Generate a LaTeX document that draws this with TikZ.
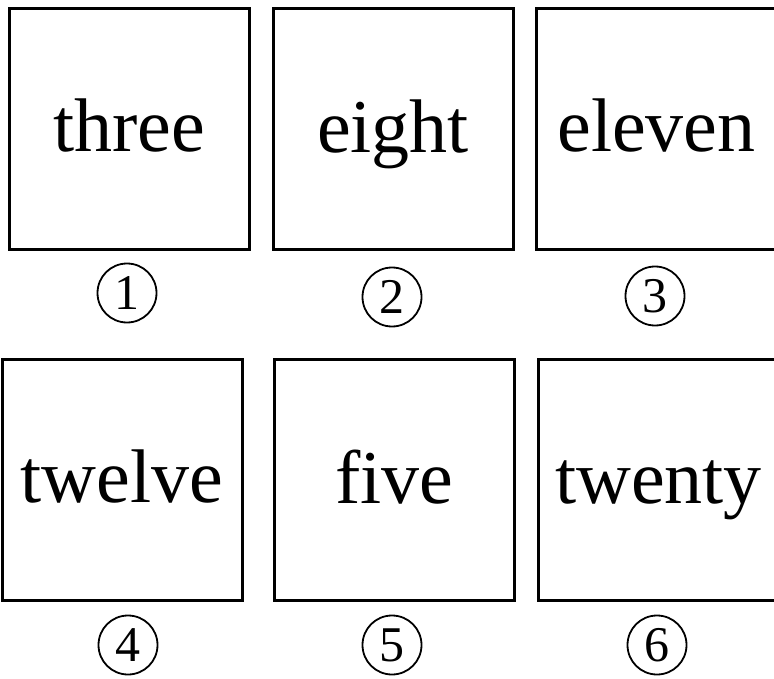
\documentclass[tikz,border=0pt]{standalone}
\usepackage{fontspec}
\setmainfont{Liberation Serif}
\usepackage{tikz}

\begin{document}
\begin{tikzpicture}[x=1pt,y=-1pt,
  card/.style={draw,line width=3pt,minimum width=240pt,minimum height=241pt,
    inner sep=0pt,text height=56pt,text depth=10pt,
    font=\fontsize{76}{80}\selectfont},
  tag/.style={draw,circle,line width=1.8pt,minimum size=59pt,inner sep=0pt,
    text height=33pt,text depth=0pt,font=\fontsize{50}{52}\selectfont}]
\useasboundingbox (0,0) rectangle (774,679);
\clip (0,0) rectangle (774,679);
% top row
\node[card] (c1) at (129,129) {three};
\node[card] (c2) at (393,129.5) {eight};
\node[card] (c3) at (656.5,129) {eleven};
\node[tag] (t1) at (127,293) {1};
\node[tag] (t2) at (392,297) {2};
\node[tag] (t3) at (655,296) {3};
% bottom row
\node[card] (c4) at (122,479.5) {twelve};
\node[card] (c5) at (394.5,480) {five};
\node[card] (c6) at (658.5,480) {twenty};
\node[tag] (t4) at (128,645) {4};
\node[tag] (t5) at (392,645) {5};
\node[tag] (t6) at (657,645) {6};
\end{tikzpicture}
\end{document}
